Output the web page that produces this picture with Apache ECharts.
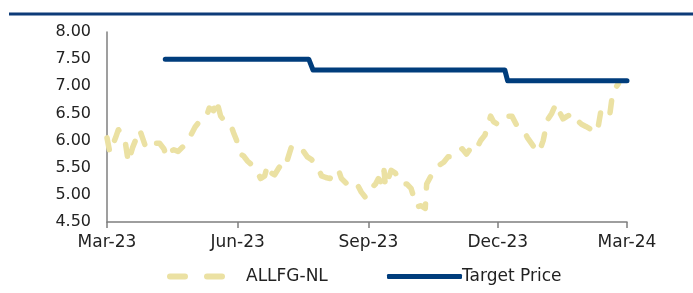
<!DOCTYPE html>
<html lang="en">
<head>
    <meta charset="UTF-8">
    <title>ALLFG-NL vs Target Price</title>
    <script src="https://cdn.jsdelivr.net/npm/echarts@6/dist/echarts.min.js"></script>
    <style>
        html, body { margin: 0; padding: 0; background: #fff; }
        #main { width: 693px; height: 293px; }
    </style>
</head>
<body>
<div id="main"></div>
<script>
    // share price
    var priceDates = [
        '2023-03-01','2023-03-03','2023-03-07','2023-03-09','2023-03-12','2023-03-14','2023-03-16','2023-03-19',
        '2023-03-21','2023-03-24','2023-03-26','2023-03-28','2023-03-31','2023-04-04','2023-04-07','2023-04-10',
        '2023-04-12','2023-04-14','2023-04-17','2023-04-20','2023-04-24','2023-04-27','2023-04-30','2023-05-02',
        '2023-05-05','2023-05-08','2023-05-10','2023-05-12','2023-05-15','2023-05-17','2023-05-20','2023-05-23',
        '2023-05-27','2023-05-29','2023-05-31','2023-06-03','2023-06-05','2023-06-08','2023-06-11','2023-06-15',
        '2023-06-17','2023-06-20','2023-06-22','2023-06-25','2023-06-27','2023-06-30','2023-07-03','2023-07-05',
        '2023-07-06','2023-07-09','2023-07-13','2023-07-16','2023-07-20','2023-07-23','2023-07-25','2023-07-28',
        '2023-07-30','2023-08-02','2023-08-05','2023-08-08','2023-08-11','2023-08-13','2023-08-17','2023-08-20',
        '2023-08-24','2023-08-27','2023-08-30','2023-09-02','2023-09-06','2023-09-08','2023-09-11','2023-09-12',
        '2023-09-13','2023-09-15','2023-09-17','2023-09-20','2023-09-22','2023-09-25','2023-09-28','2023-10-01',
        '2023-10-03','2023-10-05','2023-10-08','2023-10-11','2023-10-12','2023-10-15','2023-10-18','2023-10-21',
        '2023-10-24','2023-10-27','2023-10-30','2023-11-02','2023-11-06','2023-11-09','2023-11-13','2023-11-16',
        '2023-11-19','2023-11-22','2023-11-26','2023-11-28','2023-12-01','2023-12-04','2023-12-08','2023-12-11',
        '2023-12-14','2023-12-17','2023-12-20','2023-12-22','2023-12-26','2023-12-29','2023-12-31','2024-01-02',
        '2024-01-05','2024-01-08','2024-01-11','2024-01-14','2024-01-16','2024-01-19','2024-01-23','2024-01-27',
        '2024-01-29','2024-02-01','2024-02-05','2024-02-09','2024-02-12','2024-02-15','2024-02-18','2024-02-20',
        '2024-02-24'
    ];
    var priceValues = [
        6.05,5.78,6.05,6.20,6.10,5.95,5.60,5.87,
        6.00,6.20,6.05,5.90,5.85,5.95,5.95,5.85,
        5.70,5.80,5.83,5.80,5.90,6.00,6.15,6.25,
        6.35,6.42,6.45,6.60,6.55,6.75,6.45,6.35,
        6.30,6.15,6.02,5.75,5.72,5.62,5.55,5.43,
        5.30,5.35,5.55,5.40,5.37,5.50,5.60,5.55,
        5.65,5.90,5.85,5.85,5.70,5.65,5.58,5.47,
        5.35,5.32,5.30,5.45,5.45,5.30,5.20,5.15,
        5.20,5.05,4.95,5.10,5.20,5.30,5.20,5.45,
        5.15,5.30,5.45,5.40,5.30,5.20,5.20,5.12,
        4.95,4.78,4.80,4.75,5.20,5.35,5.45,5.55,
        5.60,5.70,5.70,5.80,5.85,5.75,5.90,5.85,
        6.00,6.10,6.45,6.35,6.30,6.40,6.45,6.45,
        6.30,6.20,6.15,6.05,5.90,5.78,5.85,6.00,
        6.38,6.50,6.68,6.50,6.40,6.45,6.50,6.35,
        6.30,6.26,6.20,6.15,6.60,6.55,6.50,6.90,
        7.05
    ];

    // target price steps
    var targetDates = ['2023-04-11','2023-07-21','2023-07-24','2023-12-06','2023-12-08','2024-03-01'];
    var targetValues = [7.50, 7.50, 7.30, 7.30, 7.10, 7.10];

    // x axis ticks
    var tickDates = ['2023-03-01','2023-06-01','2023-09-01','2023-12-01','2024-03-01'];
    var tickLabels = ['Mar-23','Jun-23','Sep-23','Dec-23','Mar-24'];

    var seriesNames = ['ALLFG-NL', 'Target Price'];

    function ts(d) {
        return new Date(d + 'T00:00:00Z').getTime();
    }
    function pairs(dates, vals) {
        var out = [];
        for (var i = 0; i < dates.length; i++) out.push([ts(dates[i]), vals[i]]);
        return out;
    }
    var tickTs = tickDates.map(ts);

    var priceColor = '#ebe1a3';
    var targetColor = '#003d7c';

    var myChart = echarts.init(document.getElementById('main'));
    var font = 'DejaVu Sans';
    var option = {
        animation: false,
        textStyle: { fontFamily: font },
        graphic: [{
            type: 'line',
            shape: { x1: 9, y1: 14, x2: 693, y2: 14 },
            style: { stroke: '#0d3b78', lineWidth: 3 }
        }],
        legend: [{
            data: [seriesNames[0]],
            left: 162,
            top: 263,
            itemWidth: 58,
            itemHeight: 6,
            // two rounded dashes
            icon: 'path://M3,0 H18 A3,3 0 0 1 18,6 H3 A3,3 0 0 1 3,0 Z M40,0 H55 A3,3 0 0 1 55,6 H40 A3,3 0 0 1 40,0 Z',
            itemStyle: { color: priceColor },
            textStyle: { fontSize: 17, color: '#222', fontFamily: font, padding: [0, 0, 0, 16] }
        }, {
            data: [seriesNames[1]],
            left: 382,
            top: 263,
            itemWidth: 75,
            itemHeight: 5,
            icon: 'roundRect',
            itemStyle: { color: targetColor },
            textStyle: { fontSize: 17, color: '#222', fontFamily: font, padding: [0, 0, 0, -5] }
        }],
        grid: { left: 107, right: 66, top: 32, bottom: 71, containLabel: false },
        xAxis: {
            // dates as timestamps on a value scale, ticks at quarter starts
            type: 'value',
            min: tickTs[0],
            max: tickTs[tickTs.length - 1],
            splitLine: { show: false },
            axisLine: { lineStyle: { color: '#7f7f7f', width: 1.5 } },
            axisTick: { show: true, length: 6, customValues: tickTs, lineStyle: { color: '#7f7f7f', width: 1.5 } },
            axisLabel: {
                customValues: tickTs,
                margin: 12,
                fontSize: 17,
                color: '#222',
                fontFamily: font,
                formatter: function (val) {
                    var i = tickTs.indexOf(val);
                    return i >= 0 ? tickLabels[i] : '';
                }
            }
        },
        yAxis: {
            type: 'value',
            min: 4.5,
            max: 8,
            interval: 0.5,
            splitLine: { show: false },
            axisLine: { show: true, lineStyle: { color: '#7f7f7f', width: 1.5 } },
            axisTick: { show: false },
            axisLabel: {
                margin: 16,
                fontSize: 16,
                color: '#222',
                fontFamily: font,
                formatter: function (v) { return v.toFixed(2); }
            }
        },
        series: [{
            name: seriesNames[0],
            type: 'line',
            data: pairs(priceDates, priceValues),
            symbol: 'none',
            itemStyle: { color: priceColor },
            lineStyle: { color: priceColor, width: 5.5, type: [12, 16], cap: 'round', join: 'round' }
        }, {
            name: seriesNames[1],
            type: 'line',
            data: pairs(targetDates, targetValues),
            symbol: 'none',
            itemStyle: { color: targetColor },
            lineStyle: { color: targetColor, width: 5, cap: 'round', join: 'round' }
        }]
    };
    myChart.setOption(option);
</script>
</body>
</html>
